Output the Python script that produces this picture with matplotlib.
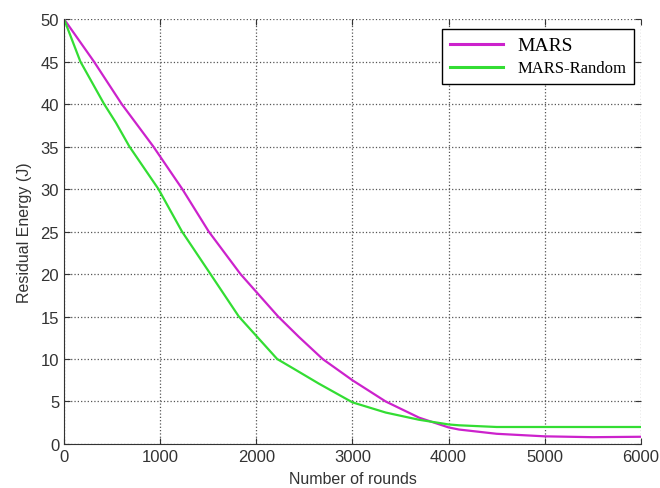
import numpy as np
import matplotlib.pyplot as plt

# values
mars_x = [0, 311, 600, 929, 1230, 1505, 1835, 2227, 2443, 2690, 3000, 3346, 3693, 4000, 4109, 4500, 5000, 5500, 6000]
mars_y = [50, 45, 40, 35, 30, 25, 20, 15, 12.6, 10, 7.5, 5.0, 3.1, 1.95, 1.7, 1.2, 0.9, 0.8, 0.85]

rand_x = [0, 170, 417, 540, 680, 982, 1227, 1523, 1818, 2217, 2390, 2651, 3000, 3346, 3693, 4000, 4109, 4500, 5000, 6000]
rand_y = [50, 45, 40, 37.8, 35, 30, 25, 20, 15, 10, 8.85, 7.1, 4.9, 3.7, 2.85, 2.3, 2.2, 2.0, 2.0, 2.0]

xticks = [0, 1000, 2000, 3000, 4000, 5000, 6000]
yticks = [0, 5, 10, 15, 20, 25, 30, 35, 40, 45, 50]

fig = plt.figure(figsize=(6.6, 4.89), dpi=100)
ax = fig.add_axes([0.097, 0.09, 0.874, 0.869])

ax.plot(mars_x, mars_y, color='#cc22cc', lw=1.6, label='MARS')
ax.plot(rand_x, rand_y, color='#33dd33', lw=1.6, label='MARS-Random')

ax.set_xlim(0, 6000)
ax.set_ylim(0, 50)
ax.set_xticks(xticks)
ax.set_yticks(yticks)
ax.grid(True, linestyle=':', color='#555555', linewidth=0.9)
ax.spines['top'].set_visible(False)
ax.spines['right'].set_visible(False)
ax.spines['left'].set_color('#333333')
ax.spines['bottom'].set_color('#333333')
ax.tick_params(direction='in', length=4, colors='#333333', top=True, right=True)
for lab in ax.get_xticklabels() + ax.get_yticklabels():
    lab.set_fontfamily('Liberation Sans')
    lab.set_fontsize(12)
    lab.set_color('#333333')

ax.set_xlabel('Number of rounds', fontsize=11.5, family='Liberation Sans', color='#333333', labelpad=5)
ax.set_ylabel('Residual Energy (J)', fontsize=11.5, family='Liberation Sans', color='#333333', labelpad=6)

leg = ax.legend(loc='upper right', bbox_to_anchor=(0.988, 0.976), borderaxespad=0,
                fancybox=False, framealpha=1, edgecolor='black',
                prop={'family': 'Liberation Serif', 'size': 12},
                handlelength=3.2, handletextpad=0.85, borderpad=0.45, labelspacing=0.4)
leg.get_frame().set_linewidth(1.0)
leg.get_texts()[0].set_fontsize(14)
for ln in leg.get_lines():
    ln.set_linewidth(2.2)

fig.savefig('out.png', dpi=100)
